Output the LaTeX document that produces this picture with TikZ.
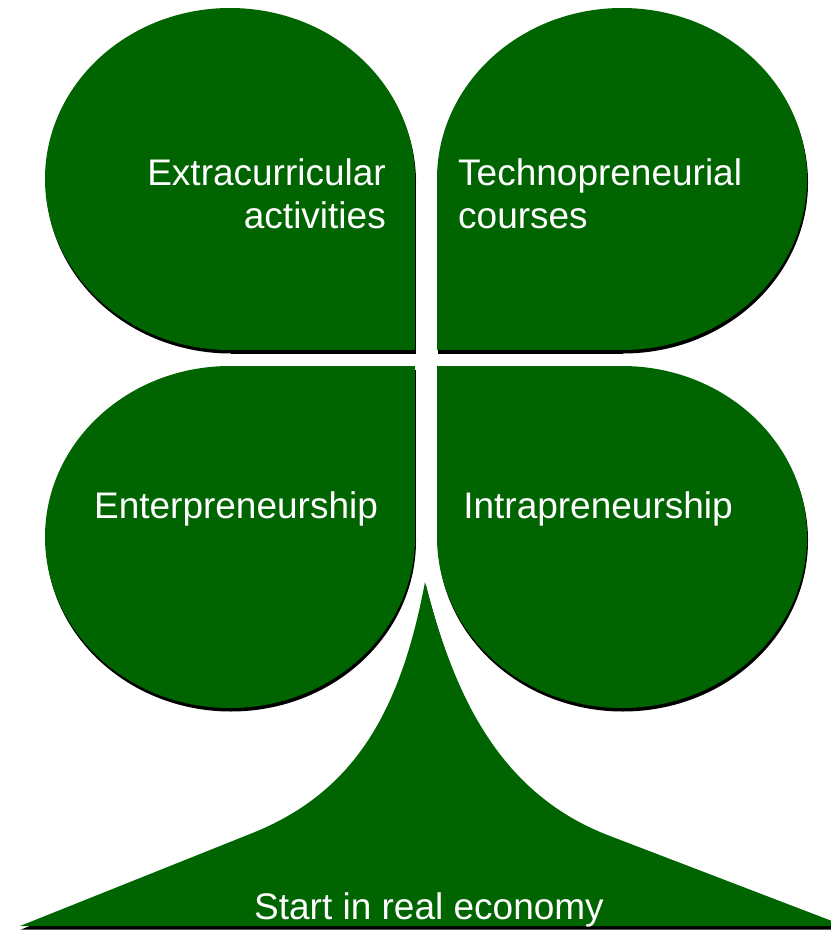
\documentclass[tikz,border=0pt]{standalone}
\usepackage{fontspec}
\setmainfont{Liberation Sans}
\usepackage{tikz}
\usetikzlibrary{positioning}
\definecolor{leafGreen}{HTML}{006400}
\definecolor{ink}{HTML}{000000}
\tikzset{
  leaf/.style={fill=leafGreen},
  shade/.style={fill=ink, shift={(1,3.5)}},
  lbl/.style={text=white, inner sep=0pt, font=\fontsize{37}{43}\selectfont},
}

\begin{document}
\begin{tikzpicture}[x=1pt, y=-1pt]
\useasboundingbox (0,0) rectangle (830,931);
% four leaves: ellipse centre and the square corner next to the middle
\foreach \cx/\cy/\kx/\ky in {230/179/415/350, 622/179/437/350, 230/537/415/366, 622/537/437/366}{
  \fill[shade] (\cx,\cy) ellipse [x radius=185, y radius=171];
  \fill[shade] (\cx,\cy) rectangle (\kx,\ky);
}
\foreach \cx/\cy/\kx/\ky in {230/179/415/350, 622/179/437/350, 230/537/415/366, 622/537/437/366}{
  \fill[leaf] (\cx,\cy) ellipse [x radius=185, y radius=171];
  \fill[leaf] (\cx,\cy) rectangle (\kx,\ky);
}
% stem
\fill[shade] (425,582) .. controls (400,715) and (352,794) .. (250,834) -- (20,926)
  -- (845,926) -- (610,836) .. controls (502,795) and (455,700) .. (425,582) -- cycle;
\fill[leaf] (425,582) .. controls (400,715) and (352,794) .. (250,834) -- (20,926)
  -- (845,926) -- (610,836) .. controls (502,795) and (455,700) .. (425,582) -- cycle;
% labels
\node[lbl, anchor=base east, align=right] (extra) at (386,228) {Extracurricular\\activities};
\node[lbl, anchor=base west, align=left] (techno) at (458,228) {Technopreneurial\\courses};
\node[lbl, anchor=base] (enter) at (236,518) {Enterpreneurship};
\node[lbl, anchor=base] (intra) at (598,518) {Intrapreneurship};
\node[lbl, anchor=base] (start) at (429,919) {Start in real economy};
\end{tikzpicture}
\end{document}
